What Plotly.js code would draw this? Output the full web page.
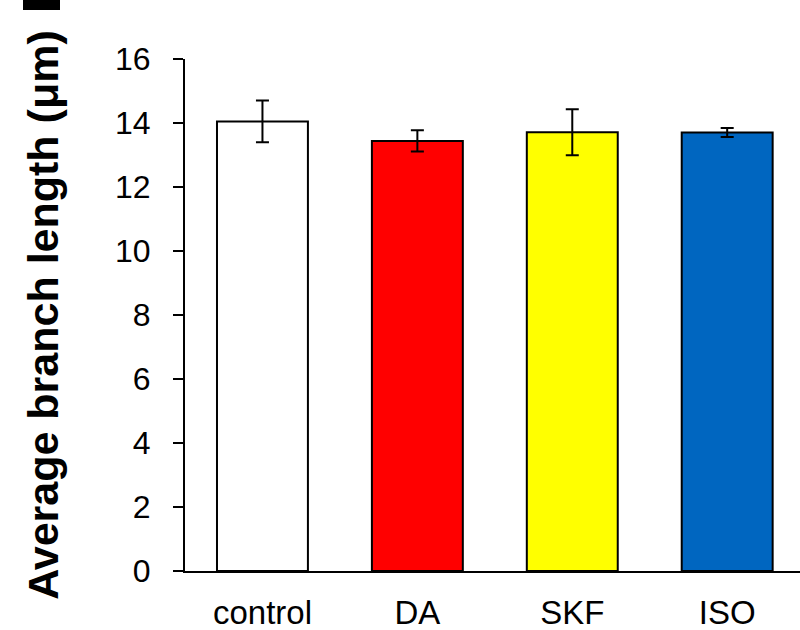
<!DOCTYPE html>
<html>
<head>
<meta charset="utf-8">
<script src="https://cdn.plot.ly/plotly-3.0.1.min.js"></script>
<style>html,body{margin:0;padding:0;background:#fff;}#chart{width:800px;height:630px;}</style>
</head>
<body>
<div id="chart"></div>
<script>
const categories = ["control", "DA", "SKF", "ISO"];
const means = [14.05, 13.44, 13.71, 13.70];
const errors = [0.65, 0.33, 0.72, 0.14];
const colors = ["#FFFFFF", "#FF0000", "#FFFF00", "#0066C0"];
const yTicks = [0, 2, 4, 6, 8, 10, 12, 14, 16];

const trace = {
  type: "bar",
  x: categories,
  y: means,
  marker: {color: colors, line: {color: "#000", width: 2}},
  error_y: {type: "data", array: errors, visible: true, color: "#000", thickness: 2, width: 6.5},
  width: 0.587,
  hoverinfo: "skip"
};

const layout = {
  width: 800, height: 630,
  margin: {l: 185, r: 0, t: 59, b: 59},
  paper_bgcolor: "#fff", plot_bgcolor: "#fff",
  showlegend: false,
  font: {family: "Liberation Sans, Arial, sans-serif", color: "#000"},
  xaxis: {
    range: [-0.5, 3.47],
    showline: true, linecolor: "#000", linewidth: 2,
    ticks: "", showgrid: false, zeroline: false,
    tickfont: {size: 33, color: "#000"},
    ticklabelstandoff: 11
  },
  yaxis: {
    range: [0, 16],
    tickvals: yTicks,
    ticktext: yTicks.map(String),
    showline: true, linecolor: "#000", linewidth: 2,
    ticks: "outside", ticklen: 10, tickwidth: 2, tickcolor: "#000",
    showgrid: false, zeroline: false,
    tickfont: {size: 32, color: "#000"},
    ticklabelstandoff: 16,
    title: {text: "<b>Average branch length (μm)</b>", font: {size: 43, color: "#000"}, standoff: 43}
  },
  shapes: [
    {type: "rect", xref: "paper", yref: "paper", x0: -185/615 + 23/615, x1: -185/615 + 60/615, y0: 1 + 59/512 - 10/512, y1: 1 + 59/512, fillcolor: "#000", line: {width: 0}}
  ]
};

Plotly.newPlot("chart", [trace], layout, {staticPlot: true});
</script>
</body>
</html>
